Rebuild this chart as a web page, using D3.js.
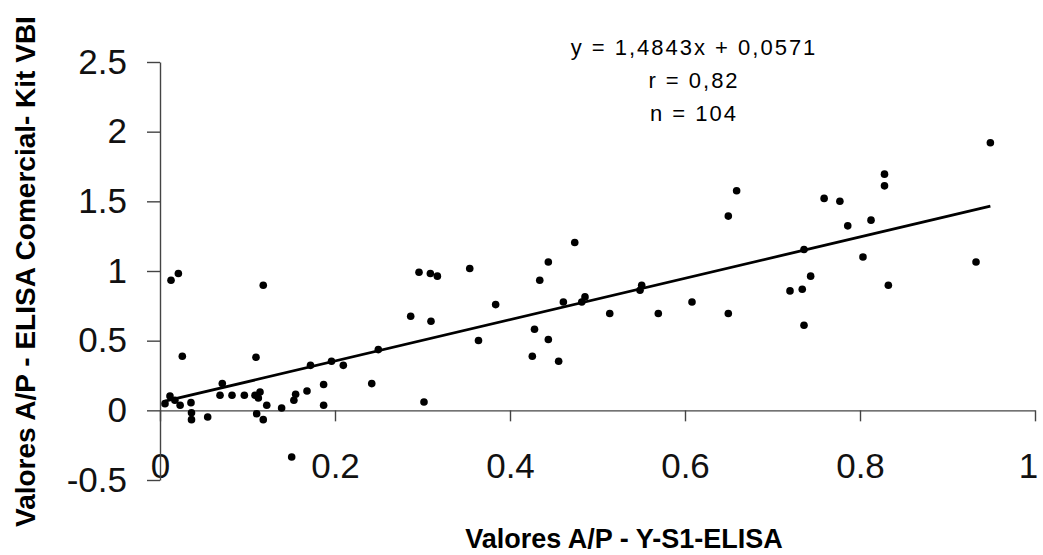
<!DOCTYPE html>
<html lang="pt">
<head>
    <meta charset="utf-8">
    <script src="https://cdn.jsdelivr.net/npm/d3@7"></script>
    <style type="text/css">
        body { margin: 0; background: white; }
        .tick text { font-family: "Liberation Sans", Arial, sans-serif; }
    </style>
</head>
<body>
    <script>
        // valores
        let xValues = [0.0126, 0.021, 0.118, 0.0255, 0.1097, 0.0057, 0.0114, 0.017, 0.023, 0.0354,
                       0.036, 0.036, 0.0545, 0.0686, 0.0712, 0.0823, 0.0964, 0.1086, 0.1143, 0.1124,
                       0.1105, 0.118, 0.122, 0.139, 0.153, 0.155, 0.168, 0.172, 0.187, 0.187,
                       0.196, 0.2095, 0.1505, 0.2495, 0.242, 0.3017, 0.2865, 0.296, 0.309, 0.317,
                       0.3097, 0.354, 0.3836, 0.364, 0.4255, 0.428, 0.434, 0.4438, 0.4438, 0.4556,
                       0.461, 0.474, 0.482, 0.4857, 0.5486, 0.5505, 0.514, 0.5695, 0.608, 0.6495,
                       0.6495, 0.659, 0.72, 0.734, 0.736, 0.7436, 0.736, 0.949, 0.828, 0.828,
                       0.759, 0.777, 0.786, 0.8126, 0.8034, 0.8324, 0.9326];
        let yValues = [0.934, 0.982, 0.898, 0.388, 0.381, 0.048, 0.103, 0.072, 0.036, 0.055,
                       -0.017, -0.067, -0.048, 0.108, 0.192, 0.108, 0.108, 0.108, 0.132, 0.089,
                       -0.024, -0.067, 0.036, 0.017, 0.072, 0.115, 0.139, 0.323, 0.185, 0.036,
                       0.352, 0.323, -0.335, 0.436, 0.192, 0.060, 0.675, 0.991, 0.982, 0.963,
                       0.639, 1.018, 0.759, 0.501, 0.388, 0.582, 0.934, 1.065, 0.508, 0.352,
                       0.778, 1.205, 0.778, 0.814, 0.862, 0.898, 0.695, 0.695, 0.778, 0.695,
                       1.394, 1.576, 0.857, 0.869, 1.154, 0.963, 0.611, 1.920, 1.695, 1.611,
                       1.521, 1.501, 1.324, 1.365, 1.101, 0.898, 1.065];

        let xTicks = [0, 0.2, 0.4, 0.6, 0.8, 1];
        let xTickLabels = ["0", "0.2", "0.4", "0.6", "0.8", "1"];
        let yTicks = [-0.5, 0, 0.5, 1, 1.5, 2, 2.5];
        let yTickLabels = ["-0.5", "0", "0.5", "1", "1.5", "2", "2.5"];

        let slope = 1.4843;
        let intercept = 0.0571;
        let statsLines = ["y = 1,4843x + 0,0571", "r = 0,82", "n = 104"];

        let xTitle = "Valores A/P - Y-S1-ELISA";
        let yTitle = "Valores A/P - ELISA Comercial- Kit VBI";

        let w = 1043;
        let h = 555;
        let svg = d3.select("body")
                    .append("svg")
                    .attr("width", w)
                    .attr("height", h);

        let xScale = d3.scaleLinear()
                        .domain([0, 1])
                        .range([160, 1035]);
        let yScale = d3.scaleLinear()
                        .domain([-0.5, 2.5])
                        .range([480, 62]);

        let xAxis = d3.axisBottom(xScale)
                    .tickValues(xTicks)
                    .tickFormat((d, i) => xTickLabels[i])
                    .tickSize(11)
                    .tickSizeOuter(0)
                    .tickPadding(32);
        let yAxis = d3.axisLeft(yScale)
                    .tickValues(yTicks)
                    .tickFormat((d, i) => yTickLabels[i])
                    .tickSize(13)
                    .tickSizeOuter(0)
                    .tickPadding(20);

        let gx = svg.append("g")
            .attr("transform", "translate(0," + yScale(0) + ")")
            .call(xAxis);
        let gy = svg.append("g")
            .attr("transform", "translate(" + xScale(0) + ",0)")
            .call(yAxis);

        [gx, gy].forEach((g) => {
            g.selectAll("path, line").attr("stroke", "#444").attr("stroke-width", 1.4);
            g.selectAll("text")
                .attr("fill", "#111")
                .style("font-size", "35px");
        });

        // the last x label sits at the window edge, pull it in a little
        gx.selectAll(".tick text")
            .filter((d) => d === 1)
            .attr("dx", -7);

        // linha de regressão
        let xExt = d3.extent(xValues);
        let line = d3.line()
                    .x((d) => xScale(d))
                    .y((d) => yScale(slope * d + intercept));
        svg.append("path")
            .datum(xExt)
            .attr("d", line)
            .attr("fill", "none")
            .attr("stroke", "black")
            .attr("stroke-width", 2.8);

        svg.selectAll("circle")
            .data(xValues)
            .enter()
            .append("circle")
            .attr("cx", (d) => xScale(d))
            .attr("cy", (d, i) => yScale(yValues[i]))
            .attr("r", 3.8)
            .attr("fill", "black");

        svg.selectAll(".stats")
            .data(statsLines)
            .enter()
            .append("text")
            .attr("class", "stats")
            .attr("x", 694)
            .attr("y", (d, i) => 55 + i * 33)
            .attr("text-anchor", "middle")
            .style("font-family", "'Liberation Sans', Arial, sans-serif")
            .style("font-size", "22px")
            .style("letter-spacing", "2px")
            .text((d) => d);

        svg.append("text")
            .attr("x", 624)
            .attr("y", 548)
            .attr("text-anchor", "middle")
            .style("font-family", "'Liberation Sans', Arial, sans-serif")
            .style("font-weight", "bold")
            .style("font-size", "27px")
            .text(xTitle);

        svg.append("text")
            .attr("transform", "translate(35,527) rotate(-90)")
            .attr("text-anchor", "start")
            .style("font-family", "'Liberation Sans', Arial, sans-serif")
            .style("font-weight", "bold")
            .style("font-size", "28px")
            .text(yTitle);
    </script>
</body>
</html>
